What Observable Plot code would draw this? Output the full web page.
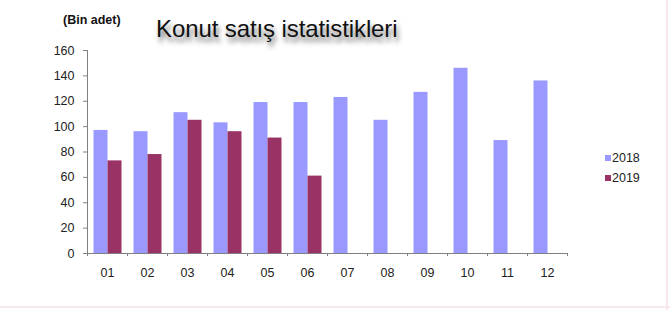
<!DOCTYPE html>
<html>
<head>
<meta charset="utf-8">
<script src="https://cdn.jsdelivr.net/npm/d3@7"></script>
<script src="https://cdn.jsdelivr.net/npm/@observablehq/plot@0.6"></script>
<style>
  html, body { margin: 0; padding: 0; background: #fff; }
  #wrap { position: relative; width: 670px; height: 310px; overflow: hidden;
          font-family: "Liberation Sans", Arial, sans-serif; }
  #wrap svg { position: absolute; left: 0; top: 0; }
  .unit { position: absolute; left: 63px; top: 14px; font-size: 12.5px; font-weight: bold;
          line-height: 12.5px; color: #111; white-space: nowrap; }
  .title { position: absolute; left: 156px; top: 16.7px; font-size: 24px; line-height: 24px;
           color: #111; white-space: nowrap; letter-spacing: -0.1px;
           text-shadow: 2px 5px 5px rgba(0,0,0,0.55); }
  .legend { position: absolute; left: 605px; top: 151px; font-size: 12.5px; color: #222; }
  .legend div { height: 20px; line-height: 14px; white-space: nowrap; }
  .legend span.sw { display: inline-block; width: 6px; height: 6px; margin-right: 1px; vertical-align: 1px; }
  .edge-r { position: absolute; left: 666px; top: 0; width: 2px; height: 310px; background: #f4e6ea; }
  .edge-b { position: absolute; left: 0; top: 306px; width: 670px; height: 2px; background: #f6eaee; }
</style>
</head>
<body>
<div id="wrap">
  <div class="unit">(Bin adet)</div>
  <div class="title">Konut satış istatistikleri</div>
  <div class="legend" id="legend"></div>
  <div class="edge-r"></div>
  <div class="edge-b"></div>
</div>
<script>
const months = ["01","02","03","04","05","06","07","08","09","10","11","12"];
const series = ["2018", "2019"];
const values2018 = [97, 96, 111, 103, 119, 119, 123, 105, 127, 146, 89, 136];
const values2019 = [73, 78, 105, 96, 91, 61];
const yTicks = [0, 20, 40, 60, 80, 100, 120, 140, 160];
const colors = ["#9999ff", "#993366"];

const data2018 = values2018.map((v, i) => ({month: months[i], value: v}));
const data2019 = values2019.map((v, i) => ({month: months[i], value: v}));

const textColor = "#222";
const axisColor = "#808080";

const chart = Plot.plot({
  width: 670,
  height: 310,
  marginTop: 50,
  marginBottom: 57,
  marginLeft: 87,
  marginRight: 103,
  style: {fontFamily: '"Liberation Sans", Arial, sans-serif', fontSize: "12px", color: textColor, background: "transparent", overflow: "visible"},
  x: {domain: months, padding: 0, label: null},
  y: {domain: [0, 160], label: null},
  marks: [
    Plot.barY(data2018, {x: "month", y: "value", fill: colors[0], insetLeft: 6.5, insetRight: 19.5}),
    Plot.barY(data2019, {x: "month", y: "value", fill: colors[1], insetLeft: 20.5, insetRight: 5.5}),
    Plot.ruleY([0], {stroke: axisColor, strokeWidth: 1}),
    Plot.ruleX([months[0]], {y1: yTicks[0], y2: yTicks[yTicks.length - 1], dx: -20, stroke: axisColor}),
    Plot.axisY({ticks: yTicks, tickSize: 4, tickPadding: 9, stroke: axisColor, fontSize: 12.5, fill: textColor, label: null}),
    Plot.axisX({ticks: months, tickSize: 3, dx: -20, tickFormat: () => "", stroke: axisColor, label: null}),
    Plot.axisX({ticks: [months[months.length - 1]], tickSize: 3, dx: 20, tickFormat: () => "", stroke: axisColor, label: null}),
    Plot.axisX({ticks: months, tickSize: 0, tickPadding: 15, fontSize: 12.5, fill: textColor, label: null})
  ]
});
document.getElementById("wrap").prepend(chart);

const legend = document.getElementById("legend");
series.forEach((s, i) => {
  const row = document.createElement("div");
  const sw = document.createElement("span");
  sw.className = "sw";
  sw.style.background = colors[i];
  row.appendChild(sw);
  row.appendChild(document.createTextNode(s));
  legend.appendChild(row);
});
</script>
</body>
</html>
